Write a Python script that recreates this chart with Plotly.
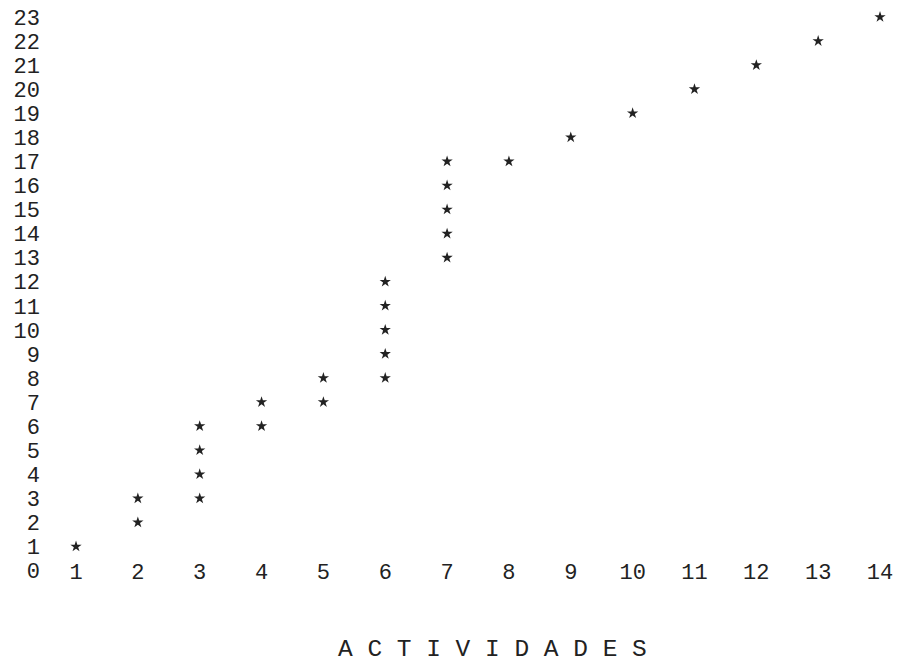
import plotly.graph_objects as go

# data
actividades = [1, 2, 2, 3, 3, 3, 3, 4, 4, 5, 5, 6, 6, 6, 6, 6, 7, 7, 7, 7, 7, 8, 9, 10, 11, 12, 13, 14]
valores = [1, 2, 3, 3, 4, 5, 6, 6, 7, 7, 8, 8, 9, 10, 11, 12, 13, 14, 15, 16, 17, 17, 18, 19, 20, 21, 22, 23]
x_ticks = list(range(1, 15))
y_ticks = list(range(0, 24))
titulo_x = "A C T I V I D A D E S"

FONT = "Liberation Mono, Courier New, monospace"
INK = "#222222"

fig = go.Figure(go.Scatter(
    x=actividades, y=valores, mode="markers",
    marker=dict(symbol="star", size=8.5, color=INK, line=dict(width=0)),
    hoverinfo="x+y", showlegend=False,
))

fig.update_layout(
    width=907, height=669,
    margin=dict(l=33, r=10, t=0, b=91.5),
    paper_bgcolor="white", plot_bgcolor="white",
    font=dict(family=FONT, size=22, color=INK),
    xaxis=dict(
        range=[0.434, 14.404], tickmode="array", tickvals=x_ticks,
        ticktext=[str(v) for v in x_ticks], ticks="", showgrid=False,
        zeroline=False, showline=False, automargin=False,
        anchor="free", position=0.0494, ticklabeloverflow="allow",
    ),
    yaxis=dict(
        range=[-0.6, 23.374], tickmode="array", tickvals=y_ticks,
        ticktext=[str(v) for v in y_ticks], ticks="", showgrid=False,
        zeroline=False, showline=False, automargin=False,
        ticklabeloverflow="allow",
    ),
    annotations=[dict(
        text=titulo_x, xref="paper", yref="paper", x=0.523, y=-0.1117,
        xanchor="center", yanchor="middle", showarrow=False,
        font=dict(family=FONT, size=24.5, color=INK),
    )],
)

fig.write_html("out.html")
